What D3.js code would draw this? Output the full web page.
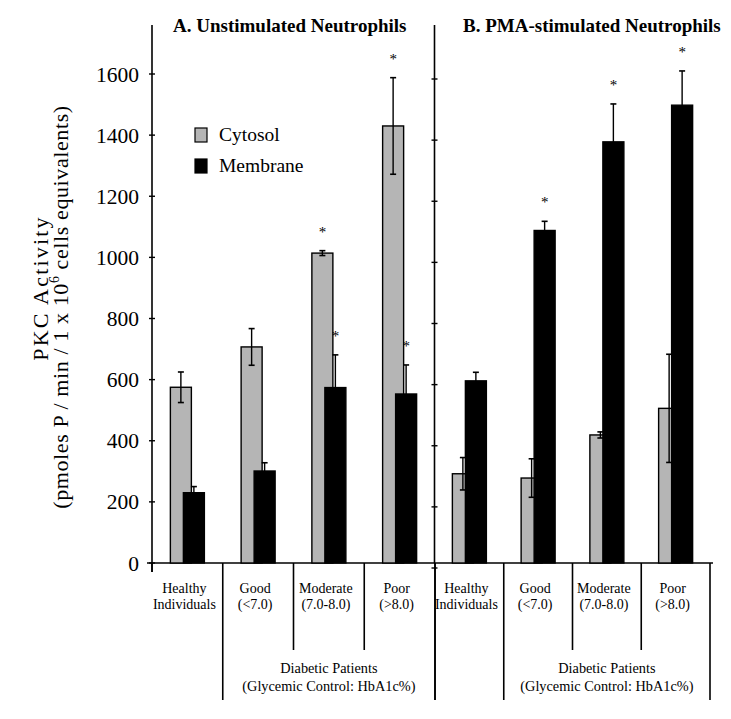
<!DOCTYPE html>
<html><head><meta charset="utf-8">
<script src="https://cdn.jsdelivr.net/npm/d3@7"></script>
<style>body{margin:0;background:#fff}svg{display:block}text{font-family:"Liberation Serif","Times New Roman",serif;fill:#000}</style>
</head><body><svg id="c" width="731" height="719"></svg>
<script>
const categoryLine1 = ["Healthy", "Good", "Moderate", "Poor"];
const categoryLine2 = ["Individuals", "(<7.0)", "(7.0-8.0)", "(>8.0)"];
const panelTitles = ["A. Unstimulated Neutrophils", "B. PMA-stimulated Neutrophils"];
const seriesNames = ["Cytosol", "Membrane"];
const cytosolA = [575, 707, 1014, 1430];
const cytosolAErr = [50, 60, 8, 158];
const membraneA = [230, 301, 574, 553];
const membraneAErr = [20, 27, 107, 95];
const cytosolB = [292, 278, 419, 506];
const cytosolBErr = [53, 63, 10, 177];
const membraneB = [596, 1088, 1378, 1498];
const membraneBErr = [28, 30, 124, 112];
const starCytosolA = [false, false, true, true];
const starMembraneA = [false, false, true, true];
const starCytosolB = [false, false, false, false];
const starMembraneB = [false, true, true, true];
const yTicks = [0, 200, 400, 600, 800, 1000, 1200, 1400, 1600];
const groupLabel = ["Diabetic Patients", "(Glycemic Control: HbA1c%)"];

const svg = d3.select("#c");
const y = d3.scaleLinear().domain([0, 1600]).range([563, 74]);
const yTopVal = y.invert(25);
const colors = ["#b5b5b5", "#000000"];

const panels = [
  {range: [152, 435], title: panelTitles[0], tx: 173,
   series: [[cytosolA, cytosolAErr, starCytosolA], [membraneA, membraneAErr, starMembraneA]]},
  {range: [435, 710], title: panelTitles[1], tx: 463,
   series: [[cytosolB, cytosolBErr, starCytosolB], [membraneB, membraneBErr, starMembraneB]]}
];

svg.append("line").attr("x1", 147).attr("x2", 713).attr("y1", y(0)).attr("y2", y(0))
  .attr("stroke", "#000").attr("stroke-width", 1.6);

const axL = svg.append("g").attr("transform", "translate(152,0)");
axL.append("line").attr("y1", y(yTopVal)).attr("y2", y(0)+9).attr("stroke", "#000").attr("stroke-width", 1.6);
axL.selectAll("line.t").data(yTicks).join("line").attr("class","t")
  .attr("x1", -3).attr("x2", 3).attr("y1", d => y(d)).attr("y2", d => y(d)).attr("stroke", "#000").attr("stroke-width", 1.4);
axL.selectAll("text").data(yTicks).join("text")
  .attr("x", -13).attr("y", d => y(d)).attr("dy", "0.35em").attr("text-anchor", "end")
  .attr("font-size", 21.5).text(d => d);

const axM = svg.append("g").attr("transform", "translate(434.5,0)");
axM.append("line").attr("y1", y(yTopVal)).attr("y2", y(0)).attr("stroke", "#000").attr("stroke-width", 1.6);
axM.selectAll("line.t").data(yTicks).join("line").attr("class","t")
  .attr("x1", -3).attr("x2", 3).attr("y1", d => y(d)+5).attr("y2", d => y(d)+5).attr("stroke", "#000").attr("stroke-width", 1.4);

svg.append("text").attr("transform", "translate(48,288) rotate(-90)").attr("text-anchor", "middle")
  .attr("font-size", 22).attr("letter-spacing", 2.2).text("PKC Activity");
const yl2 = svg.append("text").attr("transform", "translate(68,307) rotate(-90)").attr("text-anchor", "middle")
  .attr("font-size", 22).attr("letter-spacing", 0.6);
yl2.append("tspan").text("(pmoles P / min / 1 x 10");
yl2.append("tspan").attr("font-size", 14).attr("dy", -9).text("6");
yl2.append("tspan").attr("dy", 9).text(" cells equivalents)");

panels.forEach((p, pi) => {
  const x = d3.scaleBand().domain(d3.range(4)).range(p.range);
  const bw = 21;
  const g = svg.append("g");
  g.append("text").attr("x", p.tx).attr("y", 32).attr("font-size", 19).attr("font-weight", "bold").text(p.title);
  const seps = [
    {x: p.range[0], y2: pi === 0 ? 572 : 700},
    {x: x(1), y2: 700},
    {x: x(2), y2: 650},
    {x: x(3), y2: 650},
    {x: p.range[1], y2: 700}
  ];
  g.selectAll("line.sep").data(seps).join("line").attr("class", "sep")
    .attr("x1", d => d.x).attr("x2", d => d.x).attr("y1", y(0)).attr("y2", d => d.y2)
    .attr("stroke", "#000").attr("stroke-width", 1.6);
  const cx = i => x(i) + x.bandwidth() / 2 - 3;
  g.selectAll("text.c1").data(categoryLine1).join("text").attr("class", "c1")
    .attr("x", (d, i) => cx(i)).attr("y", 593).attr("text-anchor", "middle").attr("font-size", 14).text(d => d);
  g.selectAll("text.c2").data(categoryLine2).join("text").attr("class", "c2")
    .attr("x", (d, i) => cx(i)).attr("y", 609).attr("text-anchor", "middle").attr("font-size", 14).text(d => d);
  const gx = (x(1) + p.range[1]) / 2;
  g.append("text").attr("x", gx).attr("y", 673).attr("text-anchor", "middle").attr("font-size", 14.3).text(groupLabel[0]);
  g.append("text").attr("x", gx).attr("y", 691).attr("text-anchor", "middle").attr("font-size", 14.3).text(groupLabel[1]);

  p.series.forEach((s, si) => {
    const [vals, errs, stars] = s;
    const bx = i => x(i) + x.bandwidth() / 2 - 17 + si * 13;
    const sg = g.append("g");
    sg.selectAll("rect").data(vals).join("rect")
      .attr("x", (d, i) => bx(i)).attr("width", bw)
      .attr("y", d => y(d)).attr("height", d => y(0) - y(d))
      .attr("fill", colors[si]).attr("stroke", "#000").attr("stroke-width", 1.4);
    const ex = i => bx(i) + bw / 2;
    sg.selectAll("line.e").data(vals).join("line").attr("class", "e")
      .attr("x1", (d, i) => ex(i)).attr("x2", (d, i) => ex(i))
      .attr("y1", (d, i) => y(d + errs[i])).attr("y2", (d, i) => y(d - errs[i]))
      .attr("stroke", "#000").attr("stroke-width", 1.4);
    sg.selectAll("line.ct").data(vals).join("line").attr("class", "ct")
      .attr("x1", (d, i) => ex(i) - 3).attr("x2", (d, i) => ex(i) + 3)
      .attr("y1", (d, i) => y(d + errs[i])).attr("y2", (d, i) => y(d + errs[i]))
      .attr("stroke", "#000").attr("stroke-width", 1.6);
    sg.selectAll("line.cb").data(vals).join("line").attr("class", "cb")
      .attr("x1", (d, i) => ex(i) - 3).attr("x2", (d, i) => ex(i) + 3)
      .attr("y1", (d, i) => y(d - errs[i])).attr("y2", (d, i) => y(d - errs[i]))
      .attr("stroke", "#000").attr("stroke-width", 1.6);
    sg.selectAll("text.s").data(vals).join("text").attr("class", "s")
      .attr("x", (d, i) => ex(i)).attr("y", (d, i) => y(d + errs[i]) - 21 + 7)
      .attr("text-anchor", "middle").attr("font-size", 15)
      .text((d, i) => stars[i] ? "*" : "");
  });
});

const lg = svg.append("g");
seriesNames.forEach((n, i) => {
  lg.append("rect").attr("x", 195).attr("y", 128 + i * 31).attr("width", 12).attr("height", 14)
    .attr("fill", colors[i]).attr("stroke", "#000").attr("stroke-width", 1.2);
  lg.append("text").attr("x", 219).attr("y", 141 + i * 31).attr("font-size", 19.5).text(n);
});
</script></body></html>
